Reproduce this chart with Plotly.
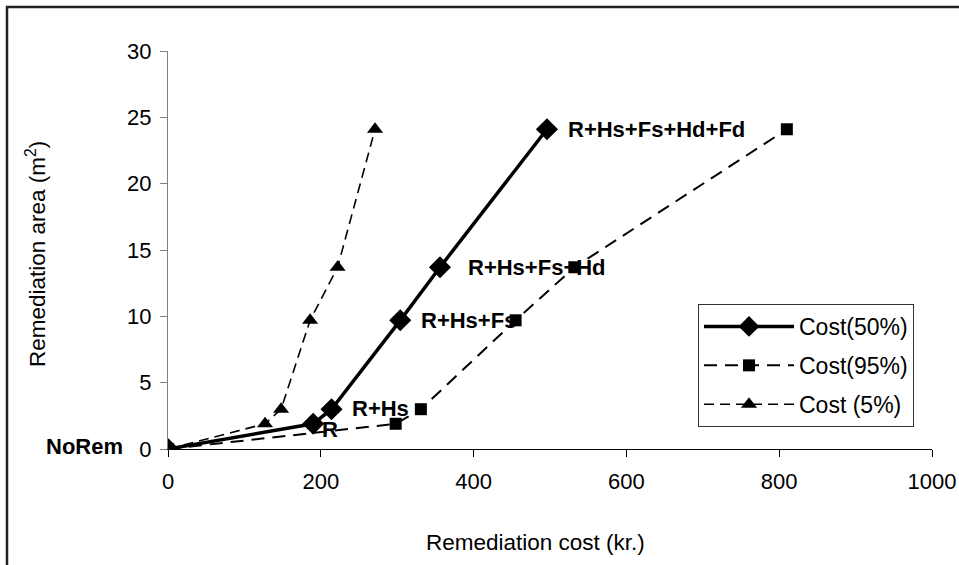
import plotly.graph_objects as go

# ---- data ----
labels = ["NoRem", "R", "R+Hs", "R+Hs+Fs", "R+Hs+Fs+Hd", "R+Hs+Fs+Hd+Fd"]
area = [0, 1.9, 3.0, 9.7, 13.7, 24.1]
cost50 = [0, 190, 214, 304, 356, 496]
cost95 = [0, 298, 331, 455, 532, 810]
cost5 = [0, 127, 148, 186, 222, 271]
series_names = ["Cost(50%)", "Cost(95%)", "Cost (5%)"]
x_ticks = [0, 200, 400, 600, 800, 1000]
y_ticks = [0, 5, 10, 15, 20, 25, 30]
grid_ticks = [5, 10, 15, 20, 25]

# ---- layout constants (body margin removed via post_script) ----
W, H = 959, 565
ML, MT = 168, 51
MR = W - 932
MB = H - 449
PW, PH = W - ML - MR, H - MT - MB
FONT = "Liberation Sans, Arial, sans-serif"


def px_to_paper_x(px):
    return (px - ML) / PW


def px_to_paper_y(py):
    return (H - MB - py) / PH


fig = go.Figure()

fig.add_trace(go.Scatter(
    x=cost50, y=area, name=series_names[0], mode="lines+markers", yaxis="y2",
    line=dict(color="black", width=3.5),
    marker=dict(symbol="diamond", size=17, color="black"),
    legendgroup="a",
))
fig.add_trace(go.Scatter(
    x=cost95, y=area, name=series_names[1], mode="lines+markers", yaxis="y2",
    line=dict(color="black", width=2, dash="13px,8px"),
    marker=dict(symbol="square", size=12, color="black"),
    legendgroup="b",
))
fig.add_trace(go.Scatter(
    x=cost5, y=area, name=series_names[2], mode="lines+markers", yaxis="y2",
    line=dict(color="black", width=1.6, dash="10px,6px"),
    marker=dict(symbol="triangle-up", size=14, color="black"),
    legendgroup="c",
))

# point labels (attached to the Cost(50%) points)
offsets = [(-43, 3, "right"), (7, -6, "left"), (18, 1, "left"),
           (19, 0, "left"), (26, 0, "left"), (19, 0, "left")]
for lab, xv, yv, (dx, dy, anc) in zip(labels, cost50, area, offsets):
    fig.add_annotation(
        x=xv, y=yv, xref="x", yref="y2", text=f"<b>{lab}</b>", showarrow=False,
        xanchor=anc, yanchor="middle", xshift=dx, yshift=dy,
        font=dict(family=FONT, size=22, color="black"),
    )

# axis titles
fig.add_annotation(
    x=px_to_paper_x(535), y=px_to_paper_y(542), xref="paper", yref="paper",
    text="Remediation cost (kr.)", showarrow=False, xanchor="center", yanchor="middle",
    font=dict(family=FONT, size=22.5, color="black"),
)
fig.add_annotation(
    x=px_to_paper_x(36), y=px_to_paper_y(254), xref="paper", yref="paper",
    text="Remediation area (m<sup>2</sup>)", showarrow=False, textangle=-90,
    xanchor="center", yanchor="middle",
    font=dict(family=FONT, size=22.5, color="black"),
)

# outer chart frame (left/top edges visible, the rest runs off the picture)
fig.add_shape(
    type="rect", xref="paper", yref="paper",
    x0=px_to_paper_x(7), x1=px_to_paper_x(1020),
    y0=px_to_paper_y(640), y1=px_to_paper_y(7),
    line=dict(color="#222222", width=2.5), fillcolor="rgba(0,0,0,0)", layer="below",
)

fig.update_layout(
    width=W, height=H, autosize=False,
    margin=dict(l=ML, r=MR, t=MT, b=MB, pad=0, autoexpand=False),
    paper_bgcolor="white", plot_bgcolor="white",
    font=dict(family=FONT, size=22, color="black"),
    showlegend=True,
    legend=dict(
        x=px_to_paper_x(698), y=px_to_paper_y(304), xanchor="left", yanchor="top",
        bgcolor="white", bordercolor="#333333", borderwidth=1,
        font=dict(family=FONT, size=23, color="black"),
        itemwidth=90, tracegroupgap=6,
    ),
    xaxis=dict(
        range=[0, 1000], tickvals=x_ticks, ticks="outside", ticklen=7,
        tickcolor="black", showline=True, linecolor="black", linewidth=1,
        showgrid=False, zeroline=False, ticklabelstandoff=6,
        ticklabeloverflow="allow", automargin=False,
        tickfont=dict(family=FONT, size=22, color="black"),
    ),
    yaxis=dict(
        range=[0, 30], tickvals=grid_ticks, showticklabels=False, ticks="",
        showgrid=True, gridcolor="#808080", gridwidth=1,
        showline=False, zeroline=False, automargin=False,
    ),
    yaxis2=dict(
        range=[0, 30], overlaying="y", side="left", tickvals=y_ticks,
        ticks="outside", ticklen=7, tickcolor="#808080",
        showline=True, linecolor="#808080", linewidth=1,
        showgrid=False, zeroline=False, ticklabelstandoff=4, automargin=False,
        tickfont=dict(family=FONT, size=22, color="black"),
    ),
)

fig.write_html(
    "out.html",
    config={"displayModeBar": False},
    post_script="document.body.style.margin='0';document.body.style.overflow='hidden';",
)
